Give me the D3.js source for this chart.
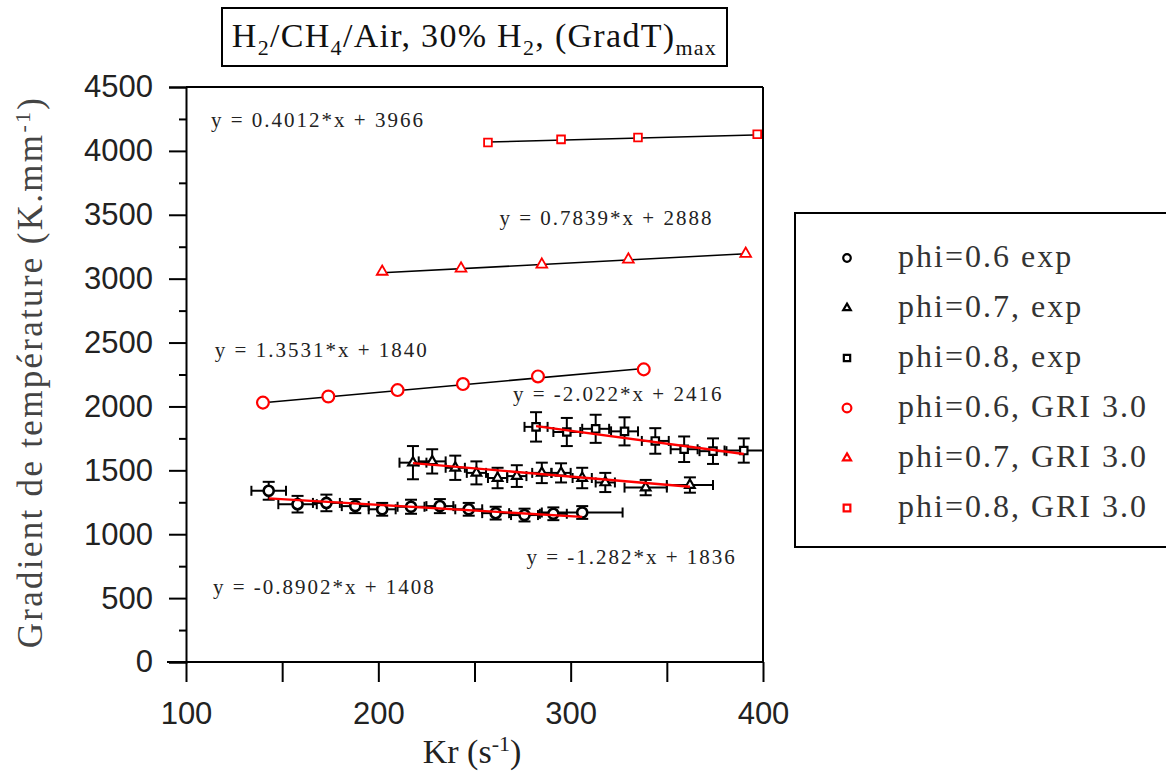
<!DOCTYPE html>
<html>
<head>
<meta charset="utf-8">
<script src="https://cdn.jsdelivr.net/npm/d3@7"></script>
<style>
  html, body { margin: 0; padding: 0; background: #fff; }
  svg { display: block; }
</style>
</head>
<body>
<svg id="chart" width="1166" height="776"></svg>
<script>
// ---------- DATA ----------
const xTicks = [100, 200, 300, 400];
const yTicks = [0, 500, 1000, 1500, 2000, 2500, 3000, 3500, 4000, 4500];

// Experimental series (with error bars)
const exp06_x    = [143, 158, 173, 188, 202, 217, 232, 247, 261, 276, 291, 306];
const exp06_y    = [1340, 1235, 1245, 1220, 1195, 1215, 1220, 1195, 1165, 1150, 1160, 1170];
const exp06_xErr = [9, 10, 7, 7, 7, 7, 7, 7, 7, 7, 7, 21];
const exp06_yErr = [70, 65, 65, 55, 50, 55, 55, 50, 50, 50, 50, 50];

const exp07_x    = [218, 228, 240, 251, 262, 272, 285, 295, 306, 318, 339, 362];
const exp07_y    = [1560, 1570, 1520, 1480, 1440, 1455, 1480, 1480, 1440, 1405, 1365, 1385];
const exp07_xErr = [7, 7, 5, 5, 5, 5, 5, 5, 5, 5, 11, 12];
const exp07_yErr = [130, 95, 95, 90, 80, 85, 80, 75, 80, 75, 60, 60];

const exp08_x    = [282, 298, 313, 328, 344, 359, 374, 390];
const exp08_y    = [1840, 1800, 1825, 1805, 1730, 1665, 1650, 1655];
const exp08_xErr = [6, 7, 7, 7, 7, 7, 7, 10];
const exp08_yErr = [115, 110, 110, 110, 100, 100, 100, 95];

// GRI 3.0 simulations
const gri06_x = [140, 174, 210, 244, 283, 338];
const gri06_y = [2030, 2078, 2128, 2175, 2235, 2290];
const gri07_x = [202, 243, 285, 330, 391];
const gri07_y = [3055, 3080, 3110, 3150, 3195];
const gri08_x = [257, 295, 335, 397];
const gri08_y = [4065, 4090, 4105, 4130];

// Linear fits: slope, intercept, x-range, label
const fitNames   = ["exp06", "exp07", "exp08", "gri06", "gri07", "gri08"];
const fitSlope   = [-0.8902, -1.282, -2.022, 1.3531, 0.7839, 0.4012];
const fitInter   = [1408, 1836, 2416, 1840, 2888, 3966];
const fitXStart  = [143, 218, 282, 140, 202, 257];
const fitXEnd    = [306, 362, 390, 338, 391, 400];
const fitLabels  = ["y = -0.8902*x + 1408", "y = -1.282*x + 1836", "y = -2.022*x + 2416",
                    "y = 1.3531*x + 1840", "y = 0.7839*x + 2888", "y = 0.4012*x + 3966"];

const legendLabels = ["phi=0.6 exp", "phi=0.7, exp", "phi=0.8, exp",
                      "phi=0.6, GRI 3.0", "phi=0.7, GRI 3.0", "phi=0.8, GRI 3.0"];

// ---------- DRAW ----------
const svg = d3.select("#chart");
const SERIF = "'Liberation Serif', 'Times New Roman', serif";
const SANS = "'Liberation Sans', Arial, sans-serif";

const x = d3.scaleLinear().domain([100, 400]).range([186, 763]);
const y = d3.scaleLinear().domain([0, 4500]).range([662, 87]);

// frame top & right
svg.append("line").attr("x1", x(100)).attr("x2", x(400)).attr("y1", y(4500)).attr("y2", y(4500))
  .attr("stroke", "#000").attr("stroke-width", 2);
svg.append("line").attr("x1", x(400)).attr("x2", x(400)).attr("y1", y(4500)).attr("y2", y(0))
  .attr("stroke", "#000").attr("stroke-width", 2);

// minor y ticks
const yMinor = svg.append("g").attr("transform", `translate(${x(100)},0)`)
  .call(d3.axisLeft(y).tickValues(d3.range(250, 4500, 500)).tickSize(7).tickFormat(""));
yMinor.select(".domain").remove();

// y axis
const yAxis = svg.append("g").attr("transform", `translate(${x(100)},0)`)
  .call(d3.axisLeft(y).tickValues(yTicks).tickSize(17).tickPadding(16).tickFormat(d3.format("d")));

// x axis
const xAxis = svg.append("g").attr("transform", `translate(0,${y(0)})`)
  .call(d3.axisBottom(x).tickValues(d3.range(100, 401, 50)).tickSize(20).tickPadding(20)
    .tickFormat(d => xTicks.includes(d) ? d : ""));

[yAxis, xAxis, yMinor].forEach(g => {
  g.selectAll("line").attr("stroke", "#000").attr("stroke-width", 2);
  g.selectAll(".domain").attr("stroke", "#000").attr("stroke-width", 2);
  g.selectAll("text").attr("font-family", SANS).attr("font-size", 31).attr("fill", "#222");
});
xAxis.select(".domain").attr("d", `M${x(100) - 19},0H${x(400)}`);

// axis titles
const xt = svg.append("text").attr("x", 472).attr("y", 763).attr("text-anchor", "middle")
  .attr("font-family", SERIF).attr("font-size", 34).attr("fill", "#222");
xt.append("tspan").text("Kr (s");
xt.append("tspan").attr("dy", -12).attr("font-size", 22).text("-1");
xt.append("tspan").attr("dy", 12).text(")");

const yt = svg.append("text").attr("transform", "translate(42,372) rotate(-90)")
  .attr("text-anchor", "middle").attr("font-family", SERIF).attr("font-size", 35)
  .attr("letter-spacing", 2.3).attr("fill", "#444");
yt.append("tspan").text("Gradient de température (K.mm");
yt.append("tspan").attr("dy", -12).attr("font-size", 22).text("-1");
yt.append("tspan").attr("dy", 12).text(")");

// title
svg.append("rect").attr("x", 222).attr("y", 8).attr("width", 505).attr("height", 58)
  .attr("fill", "none").attr("stroke", "#000").attr("stroke-width", 2);
const tt = svg.append("text").attr("x", 474.5).attr("y", 47).attr("text-anchor", "middle")
  .attr("font-family", SERIF).attr("font-size", 34).attr("letter-spacing", 1.3).attr("fill", "#111");
const parts = [["H", 0], ["2", 1], ["/CH", 0], ["4", 1], ["/Air, 30% H", 0], ["2", 1], [", (GradT)", 0], ["max", 1]];
let prevSub = 0;
parts.forEach(([t, s]) => {
  const sp = tt.append("tspan").text(t);
  if (s !== prevSub) sp.attr("dy", s ? 8 : -8);
  if (s) sp.attr("font-size", 22);
  prevSub = s;
});

// fit lines
const gFit = svg.append("g");
fitNames.forEach((n, i) => {
  if (!n.startsWith("gri")) return;
  gFit.append("line")
    .attr("x1", x(fitXStart[i])).attr("y1", y(fitSlope[i] * fitXStart[i] + fitInter[i]))
    .attr("x2", x(fitXEnd[i])).attr("y2", y(fitSlope[i] * fitXEnd[i] + fitInter[i]))
    .attr("stroke", "#000").attr("stroke-width", 1.6);
});

// error bars
function errorBars(xs, ys, xe, ye) {
  const g = svg.append("g").attr("stroke", "#000").attr("stroke-width", 2).attr("fill", "none");
  xs.forEach((xv, i) => {
    const cx = x(xv), cy = y(ys[i]);
    const x0 = x(xv - xe[i]), x1 = x(Math.min(400, xv + xe[i]));
    const y0 = y(ys[i] - ye[i]), y1 = y(ys[i] + ye[i]);
    g.append("line").attr("x1", x0).attr("x2", x1).attr("y1", cy).attr("y2", cy);
    g.append("line").attr("x1", x0).attr("x2", x0).attr("y1", cy - 5).attr("y2", cy + 5);
    g.append("line").attr("x1", x1).attr("x2", x1).attr("y1", cy - 5).attr("y2", cy + 5);
    g.append("line").attr("x1", cx).attr("x2", cx).attr("y1", y0).attr("y2", y1);
    g.append("line").attr("x1", cx - 6).attr("x2", cx + 6).attr("y1", y0).attr("y2", y0);
    g.append("line").attr("x1", cx - 6).attr("x2", cx + 6).attr("y1", y1).attr("y2", y1);
  });
}
errorBars(exp06_x, exp06_y, exp06_xErr, exp06_yErr);
errorBars(exp07_x, exp07_y, exp07_xErr, exp07_yErr);
errorBars(exp08_x, exp08_y, exp08_xErr, exp08_yErr);

// markers
const sym = {
  circle: d3.symbolCircle, triangle: d3.symbolTriangle, square: d3.symbolSquare
};
function markers(xs, ys, type, size, color, sw) {
  svg.append("g").selectAll("path").data(xs).join("path")
    .attr("transform", (d, i) => `translate(${x(d)},${y(ys[i])})`)
    .attr("d", d3.symbol().type(sym[type]).size(size))
    .attr("fill", "#fff").attr("stroke", color).attr("stroke-width", sw);
}
markers(exp06_x, exp06_y, "circle", 80, "#000", 2.6);
markers(exp07_x, exp07_y, "triangle", 40, "#000", 2.2);
markers(exp08_x, exp08_y, "square", 55, "#000", 2.2);
markers(gri06_x, gri06_y, "circle", 110, "#f00", 2.2);
markers(gri07_x, gri07_y, "triangle", 50, "#f00", 1.8);
markers(gri08_x, gri08_y, "square", 60, "#f00", 1.8);

// red exp fit lines on top
fitNames.forEach((n, i) => {
  if (!n.startsWith("exp")) return;
  svg.append("line")
    .attr("x1", x(fitXStart[i])).attr("y1", y(fitSlope[i] * fitXStart[i] + fitInter[i]))
    .attr("x2", x(fitXEnd[i])).attr("y2", y(fitSlope[i] * fitXEnd[i] + fitInter[i]))
    .attr("stroke", "#f00").attr("stroke-width", 2.4);
});

// equation labels (anchor in data coordinates)
const labX = [114, 277, 270, 115, 263, 113];
const labY = [530, 765, 2040, 2390, 3420, 4190];
fitLabels.forEach((t, i) => {
  svg.append("text").attr("x", x(labX[i])).attr("y", y(labY[i]))
    .attr("font-family", SERIF).attr("font-size", 21).attr("letter-spacing", 2)
    .attr("fill", "#222").text(t);
});

// legend
svg.append("rect").attr("x", 795).attr("y", 213).attr("width", 420).attr("height", 334)
  .attr("fill", "#fff").attr("stroke", "#000").attr("stroke-width", 2);
const legType = ["circle", "triangle", "square", "circle", "triangle", "square"];
const legCol = ["#000", "#000", "#000", "#f00", "#f00", "#f00"];
const legSize = [45, 25, 40, 60, 28, 45];
legendLabels.forEach((t, i) => {
  const ly = 258 + i * 50;
  svg.append("path").attr("transform", `translate(847,${ly})`)
    .attr("d", d3.symbol().type(sym[legType[i]]).size(legSize[i]))
    .attr("fill", "#fff").attr("stroke", legCol[i]).attr("stroke-width", 2.2);
  svg.append("text").attr("x", 898).attr("y", ly + 9)
    .attr("font-family", SERIF).attr("font-size", 32).attr("letter-spacing", 2)
    .attr("fill", "#333").text(t);
});
</script>
</body>
</html>
